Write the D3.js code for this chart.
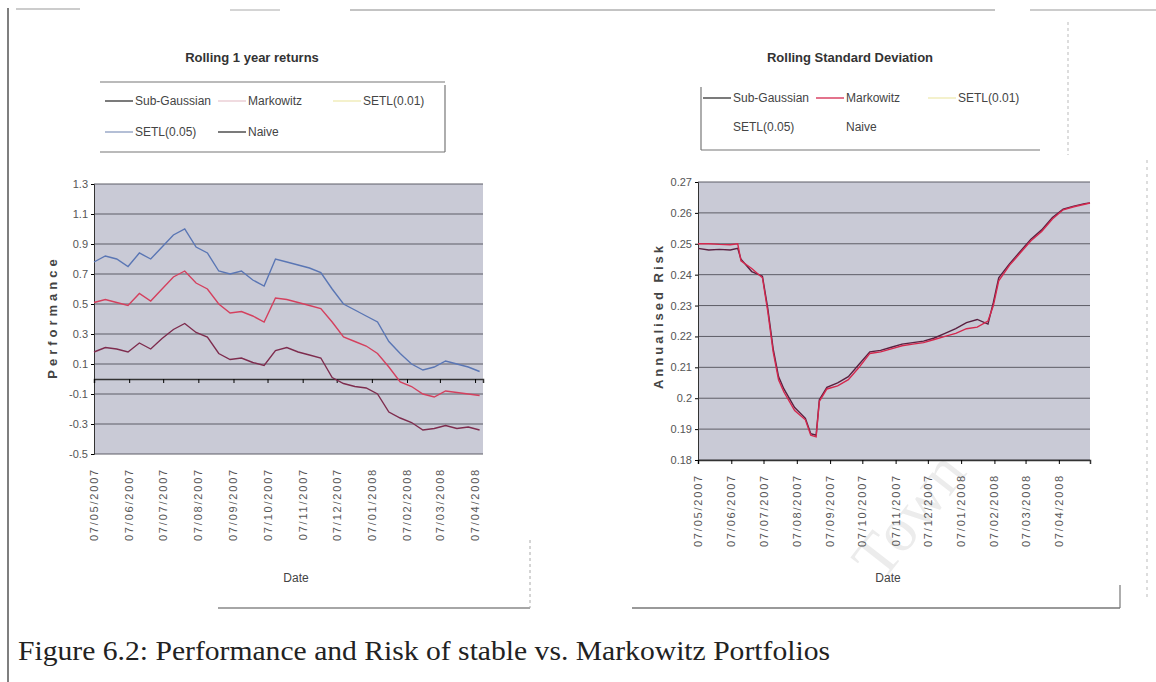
<!DOCTYPE html>
<html lang="en">
<head>
<meta charset="UTF-8">
<title>Performance and Risk of stable vs. Markowitz Portfolios</title>
<style>
  body { margin: 0; background: #fff; }
  text { font-family: "Liberation Sans Narrow", "Arial Narrow", "Liberation Sans", Arial, sans-serif; }
</style>
</head>
<body>
<svg id="fig" width="1156" height="682"></svg>
<script src="https://d3js.org/d3.v7.min.js"></script>
<script>

// ---- data ----
var returnDates = ["2007-05-07","2007-05-17","2007-05-27","2007-06-06","2007-06-16","2007-06-26",
  "2007-07-06","2007-07-16","2007-07-26","2007-08-05","2007-08-15","2007-08-25","2007-09-04",
  "2007-09-14","2007-09-24","2007-10-04","2007-10-14","2007-10-24","2007-11-03","2007-11-13",
  "2007-11-23","2007-12-03","2007-12-13","2007-12-23","2008-01-02","2008-01-12","2008-01-22",
  "2008-02-01","2008-02-11","2008-02-21","2008-03-02","2008-03-12","2008-03-22","2008-04-01","2008-04-11"];
var setl05Returns = [0.78,0.82,0.80,0.75,0.84,0.80,0.88,0.96,1.00,0.88,0.84,0.72,0.70,0.72,0.66,0.62,0.80,0.78,
  0.76,0.74,0.71,0.60,0.50,0.46,0.42,0.38,0.25,0.17,0.10,0.06,0.08,0.12,0.10,0.08,0.05];
var markowitzReturns = [0.51,0.53,0.51,0.49,0.57,0.52,0.60,0.68,0.72,0.64,0.60,0.50,0.44,0.45,0.42,0.38,0.54,0.53,
  0.51,0.49,0.47,0.38,0.28,0.25,0.22,0.17,0.08,-0.02,-0.05,-0.10,-0.12,-0.08,-0.09,-0.10,-0.11];
var subGaussReturns = [0.18,0.21,0.20,0.18,0.24,0.20,0.27,0.33,0.37,0.31,0.28,0.17,0.13,0.14,0.11,0.09,0.19,0.21,
  0.18,0.16,0.14,0.01,-0.03,-0.05,-0.06,-0.10,-0.22,-0.26,-0.29,-0.34,-0.33,-0.31,-0.33,-0.32,-0.34];

var riskDates = ["2007-05-07","2007-05-17","2007-05-27","2007-06-06","2007-06-13","2007-06-16","2007-06-26",
  "2007-07-06","2007-07-11","2007-07-16","2007-07-21","2007-07-26","2007-08-05","2007-08-15","2007-08-20",
  "2007-08-25","2007-08-28","2007-09-04","2007-09-14","2007-09-24","2007-10-04","2007-10-14","2007-10-24",
  "2007-11-03","2007-11-13","2007-11-23","2007-12-03","2007-12-13","2007-12-23","2008-01-02","2008-01-12",
  "2008-01-22","2008-02-01","2008-02-06","2008-02-11","2008-02-21","2008-03-02","2008-03-12","2008-03-22",
  "2008-04-01","2008-04-11","2008-04-21","2008-05-01","2008-05-06"];
var markowitzRisk = [0.2500,0.2500,0.2498,0.2497,0.2500,0.2445,0.2420,0.2390,0.2280,0.2150,0.2060,0.2020,
  0.1960,0.1930,0.1880,0.1875,0.1990,0.2030,0.2040,0.2060,0.2100,0.2145,0.2150,0.2160,0.2170,0.2175,0.2180,
  0.2190,0.2200,0.2210,0.2225,0.2230,0.2250,0.2300,0.2380,0.2430,0.2470,0.2510,0.2540,0.2580,0.2610,0.2620,
  0.2628,0.2632];
var subGaussRisk = [0.2485,0.2480,0.2482,0.2480,0.2485,0.2450,0.2410,0.2395,0.2290,0.2160,0.2070,0.2030,
  0.1970,0.1935,0.1885,0.1880,0.1995,0.2035,0.2050,0.2070,0.2110,0.2150,0.2155,0.2165,0.2175,0.2180,0.2185,
  0.2195,0.2210,0.2225,0.2245,0.2255,0.2240,0.2310,0.2390,0.2435,0.2475,0.2515,0.2545,0.2585,0.2612,0.2622,
  0.2630,0.2632];

var monthTicks = ["2007-05-07","2007-06-07","2007-07-07","2007-08-07","2007-09-07","2007-10-07",
  "2007-11-07","2007-12-07","2008-01-07","2008-02-07","2008-03-07","2008-04-07"];
var returnTicks = [1.3, 1.1, 0.9, 0.7, 0.5, 0.3, 0.1, -0.1, -0.3, -0.5];
var riskTicks = [0.27, 0.26, 0.25, 0.24, 0.23, 0.22, 0.21, 0.2, 0.19, 0.18];
var legendNames = ["Sub-Gaussian", "Markowitz", "SETL(0.01)", "SETL(0.05)", "Naive"];

var parse = d3.timeParse("%Y-%m-%d"),
    fmtDate = d3.timeFormat("%d/%m/%Y");

var svg = d3.select("#fig");

// scanned page frame
function seg(x1, y1, x2, y2, col, w, dash) {
  svg.append("line").attr("x1", x1).attr("y1", y1).attr("x2", x2).attr("y2", y2)
    .attr("stroke", col).attr("stroke-width", w || 1).attr("stroke-dasharray", dash || null);
}
seg(8, 8, 8, 682, "#555", 1.5);
seg(16, 9, 80, 9, "#999");
seg(230, 10, 280, 10, "#aaa");
seg(350, 10, 995, 10, "#888");
seg(1030, 10, 1156, 10, "#999");
seg(1068, 22, 1068, 155, "#bbb", 1, "3,3");
seg(1147, 160, 1147, 600, "#bbb", 1, "3,4");
seg(218, 608, 530, 608, "#888", 1.5);
seg(530, 540, 530, 608, "#aaa", 1, "3,3");
seg(632, 608, 1120, 608, "#777", 1.5);
seg(1120, 585, 1120, 608, "#777", 1.2);

// watermark
svg.append("text").attr("transform", "translate(925,528) rotate(-52)")
  .attr("text-anchor", "middle").style("font-family", "Liberation Serif, serif")
  .style("font-size", "62px").attr("fill", "#ececec").text("Town");

function chart(o) {
  var g = svg.append("g");
  var x = d3.scaleTime().domain([parse(o.start), parse(o.end)]).range([o.left, o.right]);
  var y = d3.scaleLinear().domain([o.yTicks[o.yTicks.length - 1], o.yTicks[0]]).range([o.bottom, o.top]);

  g.append("rect").attr("x", o.left).attr("y", o.top)
    .attr("width", o.right - o.left).attr("height", o.bottom - o.top).attr("fill", "#c9cad6");

  g.append("g").selectAll("line").data(o.yTicks).join("line")
    .attr("x1", o.left).attr("x2", o.right).attr("y1", d => y(d)).attr("y2", d => y(d))
    .attr("stroke", "#5d5d66").attr("stroke-width", 1);

  var ya = g.append("g").attr("transform", "translate(" + o.left + ",0)")
    .call(d3.axisLeft(y).tickValues(o.yTicks).tickSize(3).tickFormat(d => String(d)));
  ya.select(".domain").attr("stroke", "#333");
  ya.selectAll("text").style("font-size", "11px").attr("fill", "#555");

  var xa = g.append("g").attr("transform", "translate(0," + y(o.axisAt) + ")")
    .call(d3.axisBottom(x).tickValues(monthTicks.map(parse)).tickSize(4).tickFormat(""));
  xa.select(".domain").attr("stroke", "#333").attr("stroke-width", 1.5);

  g.append("g").selectAll("text").data(monthTicks).join("text")
    .attr("transform", d => "translate(" + (x(parse(d)) + 4) + "," + o.labelTop + ") rotate(-90)")
    .attr("text-anchor", "end").style("font-size", "11px").style("letter-spacing", "1.8px")
    .attr("fill", "#555").text(d => fmtDate(parse(d)));

  var line = d3.line().x(d => x(d[0])).y(d => y(d[1]));
  o.series.forEach(function (s) {
    var pts = o.dates.map((d, i) => [parse(d), s.values[i]]);
    g.append("path").datum(pts).attr("d", line).attr("fill", "none")
      .attr("stroke", s.color).attr("stroke-width", 1.4);
  });

  g.append("text").attr("x", o.titleX).attr("y", 62).attr("text-anchor", "middle")
    .style("font-size", "13px").style("font-weight", "bold").attr("fill", "#333").text(o.title);

  g.append("text").attr("transform", "translate(" + o.yTitleX + "," + o.yTitleY + ") rotate(-90)")
    .attr("text-anchor", "middle").style("font-size", "13px").style("font-weight", "bold")
    .style("letter-spacing", o.yTitleSpacing).attr("fill", "#444").text(o.yTitle);

  g.append("text").attr("x", o.dateX).attr("y", 582).attr("text-anchor", "middle")
    .style("font-size", "12px").attr("fill", "#444").text("Date");

  o.legend.forEach(function (l, i) {
    if (l.color) {
      g.append("line").attr("x1", l.x - 30).attr("x2", l.x - 2).attr("y1", l.y - 4).attr("y2", l.y - 4)
        .attr("stroke", l.color).attr("stroke-width", 1.3);
    }
    g.append("text").attr("x", l.x).attr("y", l.y).style("font-size", "12px")
      .attr("fill", "#444").text(legendNames[i]);
  });
  o.frame.forEach(f => seg(f[0], f[1], f[2], f[3], "#777", 1.2));
}

chart({
  left: 94, right: 483, top: 184, bottom: 454,
  start: "2007-05-07", end: "2008-04-14",
  yTicks: returnTicks, axisAt: 0, labelTop: 468,
  dates: returnDates,
  series: [
    { values: setl05Returns, color: "#5a76b4" },
    { values: markowitzReturns, color: "#d4405e" },
    { values: subGaussReturns, color: "#7e2c4e" }
  ],
  title: "Rolling 1 year returns", titleX: 252,
  yTitle: "Performance", yTitleX: 57, yTitleY: 317, yTitleSpacing: "4px",
  dateX: 296,
  legend: [
    { x: 135, y: 105, color: "#333" },
    { x: 248, y: 105, color: "#e8c8d0" },
    { x: 363, y: 105, color: "#eeeab0" },
    { x: 135, y: 136, color: "#8c9cc0" },
    { x: 248, y: 136, color: "#333" }
  ],
  frame: [[100, 82, 445, 82], [100, 152, 445, 152], [445, 85, 445, 152]]
});

chart({
  left: 698, right: 1090, top: 182, bottom: 460,
  start: "2007-05-07", end: "2008-05-06",
  yTicks: riskTicks, axisAt: 0.18, labelTop: 474,
  dates: riskDates,
  series: [
    { values: subGaussRisk, color: "#5a2040" },
    { values: markowitzRisk, color: "#d4284e" }
  ],
  title: "Rolling Standard Deviation", titleX: 850,
  yTitle: "Annualised Risk", yTitleX: 663, yTitleY: 316, yTitleSpacing: "3px",
  dateX: 888,
  legend: [
    { x: 733, y: 102, color: "#333" },
    { x: 846, y: 102, color: "#d4284e" },
    { x: 958, y: 102, color: "#eeeab0" },
    { x: 733, y: 131, color: null },
    { x: 846, y: 131, color: null }
  ],
  frame: [[701, 87, 701, 150], [701, 150, 1040, 150]]
});

svg.append("text").attr("x", 18).attr("y", 660)
  .style("font-family", "Liberation Serif, 'Times New Roman', serif").style("font-size", "28px")
  .attr("textLength", 812).attr("lengthAdjust", "spacingAndGlyphs")
  .attr("fill", "#222").text("Figure 6.2: Performance and Risk of stable vs. Markowitz Portfolios");

</script>
</body>
</html>
